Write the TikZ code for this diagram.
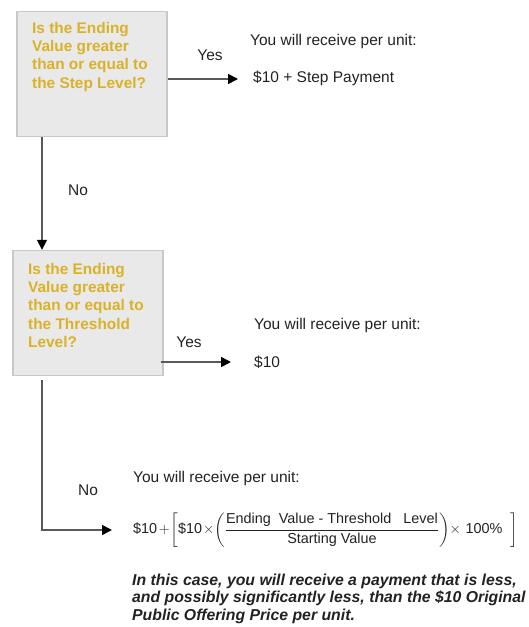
\documentclass[tikz,border=0pt]{standalone}
\usepackage{amsmath}
\usepackage{fontspec}
\setmainfont{Liberation Sans}
\usetikzlibrary{arrows.meta,positioning}
\definecolor{qyellow}{RGB}{218,178,40}
\definecolor{boxgray}{RGB}{233,233,233}
\definecolor{boxline}{RGB}{200,200,200}
\definecolor{txtgray}{RGB}{34,34,34}
\tikzset{>={Triangle[length=10pt,width=10pt,color=black]}}
\tikzset{qbox/.style={draw=boxline, fill=boxgray, line width=1.4pt, minimum width=150pt, minimum height=125pt, inner sep=0pt}}
\tikzset{qtext/.style={anchor=north west, align=left, inner sep=0pt, text=qyellow, font=\fontsize{15.4}{18.3}\selectfont\bfseries}}
\tikzset{ans/.style={anchor=west, inner sep=0pt, text=txtgray, font=\fontsize{15.5}{18}\selectfont}}
\tikzset{flow/.style={->, draw=black!65, line width=1.6pt}}

\begin{document}
\begin{tikzpicture}[x=1pt,y=1pt]
      \useasboundingbox (0,0) rectangle (529,-627);
      % first question
      \node[qbox] (box1) at (92,-74) {};
      \node[qtext] (q1) at (32,-22) {Is the Ending\\Value greater\\than or equal to\\the Step Level?};
      \node[ans] (rec1) at (250,-41) {You will receive per unit:};
      \node[ans] (pay1) at (253,-78) {\$10 + Step Payment};
      \node[ans, anchor=center] (yes1) at (210,-55) {Yes};
      \coordinate (t1) at (238,-79);
      \draw[flow] (box1.east |- t1) -- (t1);
      % second question
      \node[qbox] (box2) at (88,-313) {};
      \node[qtext] (q2) at (28,-263) {Is the Ending\\Value greater\\than or equal to\\the Threshold\\Level?};
      \node[ans] (rec2) at (254,-325) {You will receive per unit:};
      \node[ans] (pay2) at (254,-362) {\$10};
      \node[ans, anchor=center] (yes2) at (189,-342) {Yes};
      \coordinate (t2) at (231,-362);
      \draw[flow] ([xshift=-3pt]box2.east |- t2) -- (t2);
      % no branches
      \coordinate (c1) at (42,-137);
      \draw[flow] (c1) -- (c1 |- box2.north);
      \node[ans, anchor=center] (no1) at (78,-190) {No};
      \coordinate (c2) at (42,-380);
      \node[ans] (rec3) at (133,-478) {You will receive per unit:};
      \node[ans, font=\fontsize{14.4}{17}\selectfont] (pay3) at (133,-530) {\medmuskip=1mu\thinmuskip=1mu$\text{\$10}\,+\left[\text{\$10}\times\!\left(\dfrac{\text{Ending\ \ Value - Threshold\ \ \ Level}}{\text{Starting Value}}\right)\!\times\text{ 100\%}\ \ \right]$};
      \coordinate (t3) at (112,-530);
      \draw[flow] (c2) |- (t3);
      \node[ans, anchor=center] (no2) at (88,-490) {No};
      \node[ans, anchor=north west, align=left, font=\fontsize{15.8}{17.2}\selectfont\bfseries\itshape] (note) at (132,-574) {In this case, you will receive a payment that is less,\\and possibly significantly less, than the \$10 Original\\Public Offering Price per unit.};
    \end{tikzpicture}
\end{document}
